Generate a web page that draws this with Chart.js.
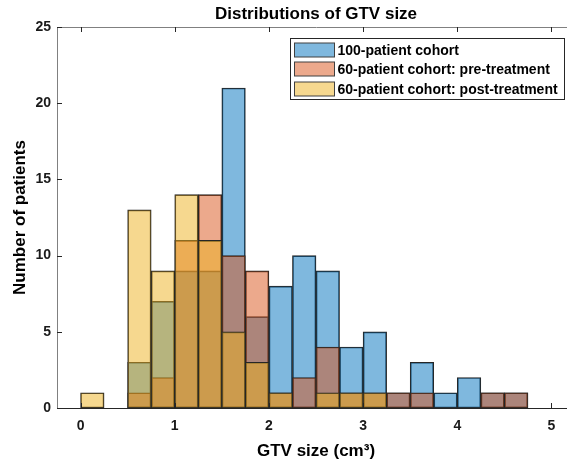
<!DOCTYPE html>
<html>
<head>
<meta charset="utf-8">
<script src="https://cdn.jsdelivr.net/npm/chart.js@4.4.1/dist/chart.umd.min.js"></script>
<style>
  html, body { margin: 0; padding: 0; background: #fff; overflow: hidden; }
  #wrap { width: 632px; height: 463px; }
</style>
</head>
<body>
<div id="wrap"><canvas id="chart-gtv" width="632" height="463"></canvas></div>
<script>
// histogram bins (left edges, cm3) and counts per bin
const binEdges = [0, 0.25, 0.5, 0.75, 1, 1.25, 1.5, 1.75, 2, 2.25, 2.5, 2.75, 3, 3.25, 3.5, 3.75, 4, 4.25, 4.5];
const binWidth = 0.25;
const cohort100 = [0, 0, 3, 7, 9, 9, 21, 6, 8, 10, 9, 4, 5, 1, 3, 1, 2, 1, 1];
const cohortPre = [0, 0, 1, 2, 11, 14, 10, 9, 1, 2, 4, 1, 1, 1, 1, 0, 0, 1, 1];
const cohortPost = [1, 0, 13, 9, 14, 11, 5, 3, 1, 0, 1, 1, 1, 0, 0, 0, 0, 0, 0];
const seriesLabels = ['100-patient cohort', '60-patient cohort: pre-treatment', '60-patient cohort: post-treatment'];
const xTickValues = [0, 1, 2, 3, 4, 5];
const yTickValues = [0, 5, 10, 15, 20, 25];

const colors = ['rgba(0,114,189,0.5)', 'rgba(217,83,25,0.5)', 'rgba(237,177,32,0.5)'];
const edgeColor = '#262626';
const fontFamily = "'Liberation Sans', Arial, Helvetica, sans-serif";

Chart.defaults.font.family = fontFamily;
Chart.defaults.color = '#000';

function toPoints(counts) {
  return counts.map((c, i) => ({ x: binEdges[i] + binWidth / 2, y: c }));
}

// box round the axes with inward ticks, MATLAB style
const axesBox = {
  id: 'axesBox',
  afterDatasetsDraw(chart) {
    const { ctx, chartArea: a, scales: { x, y } } = chart;
    ctx.save();
    ctx.lineWidth = 1;
    ctx.strokeStyle = '#808080';
    ctx.beginPath();
    ctx.moveTo(a.left + 0.5, a.bottom + 0.5);
    ctx.lineTo(a.left + 0.5, a.top + 0.5);
    ctx.lineTo(a.right + 0.5, a.top + 0.5);
    ctx.lineTo(a.right + 0.5, a.bottom + 0.5);
    ctx.stroke();
    ctx.strokeStyle = edgeColor;
    ctx.beginPath();
    ctx.moveTo(a.left, a.bottom + 0.5);
    ctx.lineTo(a.right, a.bottom + 0.5);
    xTickValues.forEach(v => {
      const px = Math.round(x.getPixelForValue(v)) + 0.5;
      ctx.moveTo(px, a.bottom);
      ctx.lineTo(px, a.bottom - 5);
      ctx.moveTo(px, a.top);
      ctx.lineTo(px, a.top + 5);
    });
    yTickValues.forEach(v => {
      const py = Math.round(y.getPixelForValue(v)) + 0.5;
      ctx.moveTo(a.left, py);
      ctx.lineTo(a.left + 5, py);
      ctx.moveTo(a.right, py);
      ctx.lineTo(a.right - 5, py);
    });
    ctx.stroke();
    ctx.restore();
  }
};

// legend inside the axes, top right, with a border
const boxLegend = {
  id: 'boxLegend',
  afterDraw(chart) {
    const { ctx, chartArea: a } = chart;
    const left = 290.5, top = a.top + 11.5, w = 274, h = 61;
    ctx.save();
    ctx.fillStyle = '#fff';
    ctx.fillRect(left, top, w, h);
    ctx.lineWidth = 1;
    ctx.strokeStyle = edgeColor;
    ctx.strokeRect(left, top, w, h);
    ctx.font = 'bold 14px ' + fontFamily;
    ctx.textBaseline = 'middle';
    ctx.textAlign = 'left';
    chart.data.datasets.forEach((ds, i) => {
      const cy = Math.round(top + 11 + i * 19.6);
      ctx.fillStyle = ds.backgroundColor;
      ctx.fillRect(left + 4, cy - 7, 40, 14);
      ctx.strokeStyle = '#404040';
      ctx.strokeRect(left + 4, cy - 7, 40, 14);
      ctx.fillStyle = '#000';
      ctx.fillText(ds.label, left + 47, cy + 1);
    });
    ctx.restore();
  }
};

const chartGtv = document.getElementById('chart-gtv');

new Chart(chartGtv, {
  type: 'bar',
  data: {
    datasets: [
      { label: seriesLabels[0], data: toPoints(cohort100), backgroundColor: colors[0], order: 3 },
      { label: seriesLabels[1], data: toPoints(cohortPre), backgroundColor: colors[1], order: 2 },
      { label: seriesLabels[2], data: toPoints(cohortPost), backgroundColor: colors[2], order: 1 }
    ]
  },
  options: {
    responsive: false,
    animation: false,
    devicePixelRatio: 1,
    layout: { padding: 0 },
    datasets: {
      bar: {
        grouped: false,
        barPercentage: 1,
        categoryPercentage: 1,
        borderWidth: 1,
        borderColor: edgeColor,
        borderSkipped: false
      }
    },
    plugins: {
      legend: { display: false },
      tooltip: { enabled: false },
      title: {
        display: true,
        text: 'Distributions of GTV size',
        color: '#000',
        font: { size: 17, weight: 'bold' },
        padding: { top: 4.6, bottom: 2 }
      }
    },
    scales: {
      x: {
        type: 'linear',
        min: -0.25,
        max: 5.25,
        offset: false,
        grid: { display: false, drawTicks: false, offset: false },
        border: { display: false },
        afterBuildTicks: axis => { axis.ticks = xTickValues.map(v => ({ value: v })); },
        afterFit: axis => { axis.height = 55; },
        ticks: {
          autoSkip: false,
          maxRotation: 0,
          padding: 10,
          color: '#1a1a1a',
          font: { size: 14, weight: 'bold' }
        },
        title: {
          display: true,
          text: 'GTV size (cm³)',
          color: '#000',
          font: { size: 17, weight: 'bold' },
          padding: { top: 0, bottom: 1.7 }
        }
      },
      y: {
        min: 0,
        max: 25,
        grid: { display: false, drawTicks: false },
        border: { display: false },
        afterBuildTicks: axis => { axis.ticks = yTickValues.map(v => ({ value: v })); },
        afterFit: axis => { axis.width = 57; },
        ticks: {
          padding: 6,
          color: '#1a1a1a',
          font: { size: 14, weight: 'bold' }
        },
        title: {
          display: true,
          text: 'Number of patients',
          color: '#000',
          font: { size: 17, weight: 'bold' },
          padding: { top: 10.3, bottom: 0 }
        }
      },
      // empty right-hand axis: keeps the plot box going past the window edge
      // and keeps the title centred over the plot
      yRight: {
        type: 'linear',
        position: 'right',
        grid: { display: false, drawTicks: false },
        border: { display: false },
        ticks: { display: false },
        afterFit: axis => { axis.width = 57; }
      }
    }
  },
  plugins: [axesBox, boxLegend]
});
</script>
</body>
</html>
